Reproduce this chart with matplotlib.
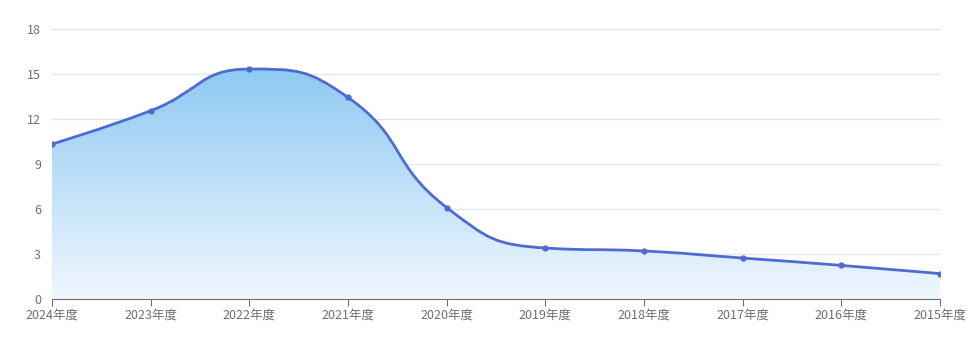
import numpy as np
import matplotlib
matplotlib.use("Agg")
import matplotlib.pyplot as plt
from matplotlib.path import Path
from matplotlib.patches import PathPatch

plt.rcParams['font.family'] = ['Noto Sans CJK SC', 'DejaVu Sans']

# 数据
years = ["2024年度", "2023年度", "2022年度", "2021年度", "2020年度",
         "2019年度", "2018年度", "2017年度", "2016年度", "2015年度"]
values = [10.33, 12.55, 15.33, 13.44, 6.1, 3.4, 3.2, 2.73, 2.24, 1.69]
y_ticks = [0, 3, 6, 9, 12, 15, 18]

LINE = "#4f6bd0"
GRID = "#e0e6f1"
AXIS = "#6e7079"

# echarts 风格平滑曲线 (smooth=0.5), 在像素尺度下计算控制点
def smooth_path(xs, ys, sx, sy, smooth=0.5):
    px = [x * sx for x in xs]
    py = [y * sy for y in ys]
    n = len(px)
    verts = [(px[0], py[0])]
    codes = [Path.MOVETO]
    cp0 = (px[0], py[0])
    for i in range(1, n):
        x, y = px[i], py[i]
        prevX, prevY = px[i - 1], py[i - 1]
        if i == n - 1:
            cp1 = (x, y)
            ncp0 = (x, y)
        else:
            nextX, nextY = px[i + 1], py[i + 1]
            vx, vy = nextX - prevX, nextY - prevY
            lp = np.hypot(x - prevX, y - prevY)
            ln = np.hypot(nextX - x, nextY - y)
            r = ln / (ln + lp)
            nx = x + vx * smooth * r
            ny = y + vy * smooth * r
            nx = max(min(nx, max(nextX, x)), min(nextX, x))
            ny = max(min(ny, max(nextY, y)), min(nextY, y))
            vx, vy = nx - x, ny - y
            c1x = x - vx * lp / ln
            c1y = y - vy * lp / ln
            c1x = max(min(c1x, max(prevX, x)), min(prevX, x))
            c1y = max(min(c1y, max(prevY, y)), min(prevY, y))
            vx, vy = x - c1x, y - c1y
            cp1 = (c1x, c1y)
            ncp0 = (x + vx * ln / lp, y + vy * ln / lp)
        verts += [cp0, cp1, (x, y)]
        codes += [Path.CURVE4] * 3
        cp0 = ncp0
    verts = [(vx / sx, vy / sy) for vx, vy in verts]
    return verts, codes

fig = plt.figure(figsize=(9.77, 3.37), dpi=100)
ax = fig.add_axes([52 / 977, 38 / 337, 888 / 977, 270 / 337])

x = np.arange(len(years))
sx = 888 / (len(years) - 1)
sy = 270 / 18
verts, codes = smooth_path(x, values, sx, sy)

# 面积渐变
area_verts = verts + [(x[-1], 0), (x[0], 0), verts[0]]
area_codes = codes + [Path.LINETO, Path.LINETO, Path.CLOSEPOLY]
area = PathPatch(Path(area_verts, area_codes), facecolor="none", edgecolor="none")
ax.add_patch(area)
top_c = np.array([143, 201, 243]) / 255
bot_c = np.array([240, 247, 254]) / 255
t = np.linspace(0, 1, 256)[:, None]
grad = (top_c * (1 - t) + bot_c * t)[:, None, :]
im = ax.imshow(grad, extent=[x[0], x[-1], 0, max(values)], aspect="auto",
               origin="upper", zorder=1)
im.set_clip_path(area)

line = PathPatch(Path(verts, codes), facecolor="none", edgecolor=LINE, lw=2, zorder=3)
ax.add_patch(line)
ax.plot(x, values, "o", color=LINE, ms=3.5, zorder=4)

ax.set_xlim(x[0], x[-1])
ax.set_ylim(0, 18)
ax.set_yticks(y_ticks)
ax.set_xticks(x)
ax.set_xticklabels(years)
ax.grid(axis="y", color=GRID, lw=1)
ax.set_axisbelow(True)
for s in ["top", "right", "left"]:
    ax.spines[s].set_visible(False)
ax.spines["bottom"].set_color(AXIS)
ax.tick_params(axis="y", length=0, pad=8, labelsize=9, labelcolor=AXIS)
ax.tick_params(axis="x", length=5, color=AXIS, pad=2, labelsize=9, labelcolor=AXIS)

fig.savefig("out.png", dpi=100, facecolor="white")
